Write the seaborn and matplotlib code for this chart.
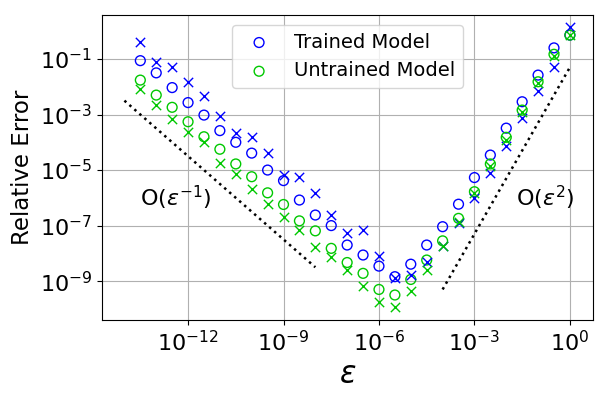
import numpy as np
import pandas as pd
import matplotlib
matplotlib.use('Agg')
import matplotlib.pyplot as plt
import seaborn as sns

# log10 of epsilon, every half decade
log_eps = [-13.5, -13, -12.5, -12, -11.5, -11, -10.5, -10, -9.5, -9, -8.5, -8, -7.5, -7,
           -6.5, -6, -5.5, -5, -4.5, -4, -3.5, -3, -2.5, -2, -1.5, -1, -0.5, 0]

# log10 of relative error
trained_o = [-1.06, -1.5, -2.03, -2.57, -3.02, -3.58, -4.0, -4.39, -5.0, -5.38, -6.08, -6.62, -7.0, -7.7,
             -8.06, -8.46, -8.84, -8.39, -7.7, -7.04, -6.23, -5.27, -4.46, -3.49, -2.54, -1.58, -0.6, -0.14]
trained_x = [-0.4, -1.1, -1.3, -1.84, -2.33, -3.05, -3.67, -3.82, -4.4, -5.18, -5.26, -5.82, -6.62, -7.27,
             -7.16, -8.1, -8.9, -8.78, -8.3, -7.74, -6.9, -6.0, -5.1, -4.14, -3.13, -2.14, -1.3, 0.16]
untrained_o = [-1.76, -2.3, -2.74, -3.26, -3.8, -4.25, -4.78, -5.24, -5.82, -6.24, -6.83, -7.19, -7.82, -8.33,
               -8.72, -9.3, -9.5, -8.94, -8.24, -7.55, -6.74, -5.78, -4.78, -3.82, -2.84, -1.82, -0.83, -0.14]
untrained_x = [-2.09, -2.66, -3.16, -3.62, -3.98, -4.74, -5.15, -5.7, -6.23, -6.68, -7.16, -7.76, -8.12, -8.6,
               -9.18, -9.74, -9.93, -9.36, -8.6, -7.74, -6.86, -5.82, -4.86, -3.9, -2.9, -1.88, -0.89, -0.14]

df = pd.DataFrame({
    'eps': 10.0 ** np.array(log_eps),
    'trained_o': 10.0 ** np.array(trained_o),
    'trained_x': 10.0 ** np.array(trained_x),
    'untrained_o': 10.0 ** np.array(untrained_o),
    'untrained_x': 10.0 ** np.array(untrained_x),
})

# reference slopes
left_eps = np.array([1e-14, 1e-8])
right_eps = np.array([1e-4, 1.0])

blue = '#0000ff'
green = '#00c800'

sns.set_style('ticks')
plt.rcParams['text.color'] = 'k'
plt.rcParams['axes.labelcolor'] = 'k'
plt.rcParams['xtick.color'] = 'k'
plt.rcParams['ytick.color'] = 'k'

fig = plt.figure(figsize=(6.08, 3.98), dpi=100)
ax = fig.add_axes([0.168, 0.196, 0.807, 0.766])

sns.scatterplot(data=df, x='eps', y='trained_o', ax=ax, marker='o', s=50,
                facecolor='none', edgecolor=blue, linewidth=1.0, label='Trained Model')
sns.scatterplot(data=df, x='eps', y='untrained_o', ax=ax, marker='o', s=50,
                facecolor='none', edgecolor=green, linewidth=1.0, label='Untrained Model')
sns.scatterplot(data=df, x='eps', y='trained_x', ax=ax, marker='x', s=45,
                color=blue, linewidth=1.0, legend=False)
sns.scatterplot(data=df, x='eps', y='untrained_x', ax=ax, marker='x', s=45,
                color=green, linewidth=1.0, legend=False)

ax.plot(left_eps, 10 ** -16.5 / left_eps, ls=':', color='k', lw=1.8)
ax.plot(right_eps, 10 ** -1.3 * right_eps ** 2, ls=':', color='k', lw=1.8)

ax.text(10 ** -13.5, 10 ** -6.0, r'O($\varepsilon^{-1}$)', fontsize=16, va='center')
ax.text(10 ** -1.7, 10 ** -6.0, r'O($\varepsilon^{2}$)', fontsize=16, va='center')

ax.set_xscale('log')
ax.set_yscale('log')
ax.set_xlim(10 ** -14.7, 10 ** 0.72)
ax.set_ylim(10 ** -10.4, 10 ** 0.58)
ax.set_xticks([1e-12, 1e-9, 1e-6, 1e-3, 1e0])
ax.set_yticks([1e-9, 1e-7, 1e-5, 1e-3, 1e-1])
ax.minorticks_off()
ax.tick_params(labelsize=16, color='k', labelcolor='k')
ax.grid(True, color='#b0b0b0', lw=0.8)
for sp in ax.spines.values():
    sp.set_color('k')

ax.set_xlabel(r'$\varepsilon$', fontsize=22)
ax.set_ylabel('Relative Error', fontsize=16.5)
ax.legend(loc='upper center', fontsize=14, bbox_to_anchor=(0.5, 1.0))

fig.savefig('out.png', dpi=100)
